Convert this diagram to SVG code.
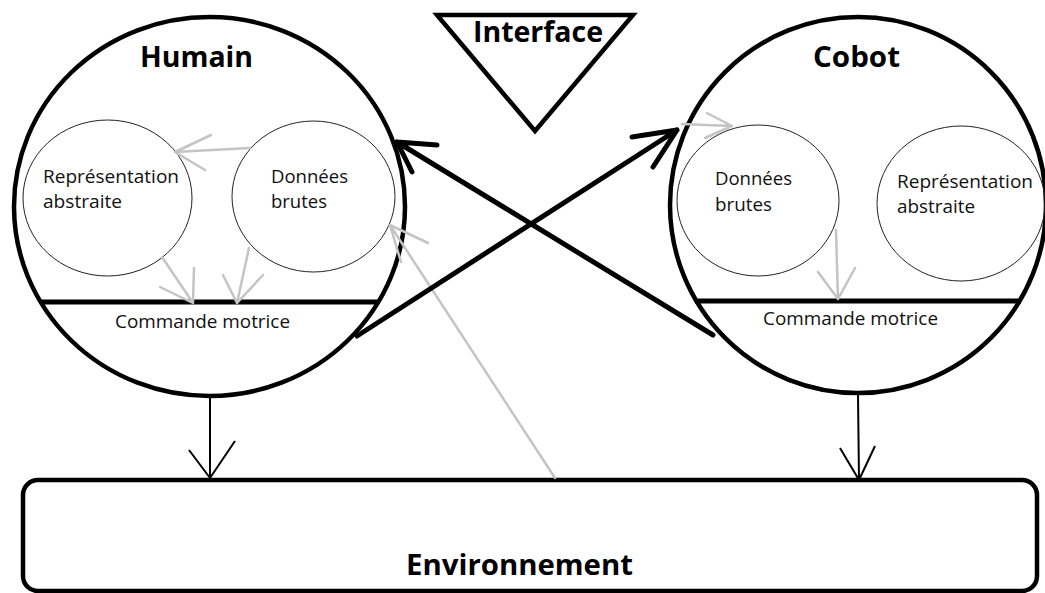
<svg xmlns="http://www.w3.org/2000/svg" width="1045" height="593" viewBox="0 0 1045 593">
<style>
.big{fill:none;stroke:#000;stroke-width:4.5}
.thin{fill:none;stroke:#222;stroke-width:1}
.bar{stroke:#000;stroke-width:5}
.title{font-family:"Open Sans","Liberation Sans",sans-serif;font-weight:bold;font-size:28px;fill:#000}
.lbl{font-family:"Open Sans","Liberation Sans",sans-serif;font-size:18px;fill:#111}
.gray{fill:none;stroke:#c4c4c4;stroke-width:2.5;stroke-linecap:round}
.blk{fill:none;stroke:#000;stroke-width:5;stroke-linecap:round}
.blk2{fill:none;stroke:#000;stroke-width:2}
</style>
<rect width="1045" height="593" fill="#fff"/>
<g id="interface">
<polygon points="437,15 633,15 535,131" fill="none" stroke="#000" stroke-width="4.5" stroke-linejoin="miter"/>
<text class="title" x="473" y="42" textLength="130" lengthAdjust="spacingAndGlyphs">Interface</text>
</g>
<g id="humain">
<ellipse class="big" cx="209.5" cy="206.5" rx="195.5" ry="189.5"/>
<line class="bar" x1="41" y1="302" x2="379" y2="302"/>
<text class="title" x="140" y="67" textLength="113" lengthAdjust="spacingAndGlyphs">Humain</text>
<text class="lbl" x="115" y="328" textLength="175" lengthAdjust="spacingAndGlyphs">Commande motrice</text>
</g>
<g id="humain-representation">
<ellipse class="thin" cx="107.5" cy="198" rx="84.5" ry="78"/>
<text class="lbl" x="43" y="183" textLength="136" lengthAdjust="spacingAndGlyphs">Représentation</text>
<text class="lbl" x="43" y="208" textLength="79" lengthAdjust="spacingAndGlyphs">abstraite</text>
</g>
<g id="humain-donnees">
<ellipse class="thin" cx="313.5" cy="196.5" rx="81.5" ry="75.5"/>
<text class="lbl" x="271" y="183" textLength="77" lengthAdjust="spacingAndGlyphs">Données</text>
<text class="lbl" x="271" y="208" textLength="56" lengthAdjust="spacingAndGlyphs">brutes</text>
</g>
<g id="cobot">
<ellipse class="big" cx="858" cy="205" rx="188" ry="188"/>
<line class="bar" x1="695" y1="301" x2="1021" y2="301"/>
<text class="title" x="813" y="67" textLength="87" lengthAdjust="spacingAndGlyphs">Cobot</text>
<text class="lbl" x="763" y="325" textLength="175" lengthAdjust="spacingAndGlyphs">Commande motrice</text>
</g>
<g id="cobot-donnees">
<ellipse class="thin" cx="758" cy="200.5" rx="81" ry="75.5"/>
<text class="lbl" x="715" y="185" textLength="77" lengthAdjust="spacingAndGlyphs">Données</text>
<text class="lbl" x="715" y="211" textLength="57" lengthAdjust="spacingAndGlyphs">brutes</text>
</g>
<g id="cobot-representation">
<ellipse class="thin" cx="961" cy="203.5" rx="84" ry="77.5"/>
<text class="lbl" x="897" y="188" textLength="136" lengthAdjust="spacingAndGlyphs">Représentation</text>
<text class="lbl" x="897" y="213" textLength="78" lengthAdjust="spacingAndGlyphs">abstraite</text>
</g>
<g id="environnement">
<rect x="23" y="480" width="1014" height="111" rx="15" ry="15" fill="none" stroke="#000" stroke-width="4.5"/>
<text class="title" x="406" y="575" textLength="227" lengthAdjust="spacingAndGlyphs">Environnement</text>
</g>
<g id="connectors">
<path class="gray" d="M250,148 L175,152 M175,152 L211,135 M175,152 L205,170"/>
<path class="gray" d="M162,257 L193,303 M193,303 L194,268 M193,303 L160,287"/>
<path class="gray" d="M249,248 L237,303 M237,303 L223,275 M237,303 L263,275"/>
<path class="gray" d="M555,478 L390,225 M390,225 L428,243 M390,225 L401,262"/>
<path class="gray" d="M682,124 L732,126 M732,126 L707,113 M732,126 L705,138"/>
<path class="gray" d="M836,230 L838,299 M838,299 L818,272 M838,299 L855,268"/>
<path class="blk" d="M713,335 L397,142 M397,142 L437,145 M397,142 L412,172"/>
<path class="blk" d="M357,336 L677,130 M677,130 L632,137 M677,130 L653,167"/>
<path class="blk2" d="M210,398 L210,478 M210,478 L189,450 M210,478 L235,441"/>
<path class="blk2" d="M858,395 L859,480 M859,480 L840,448 M859,480 L875,446"/>
</g>
</svg>
